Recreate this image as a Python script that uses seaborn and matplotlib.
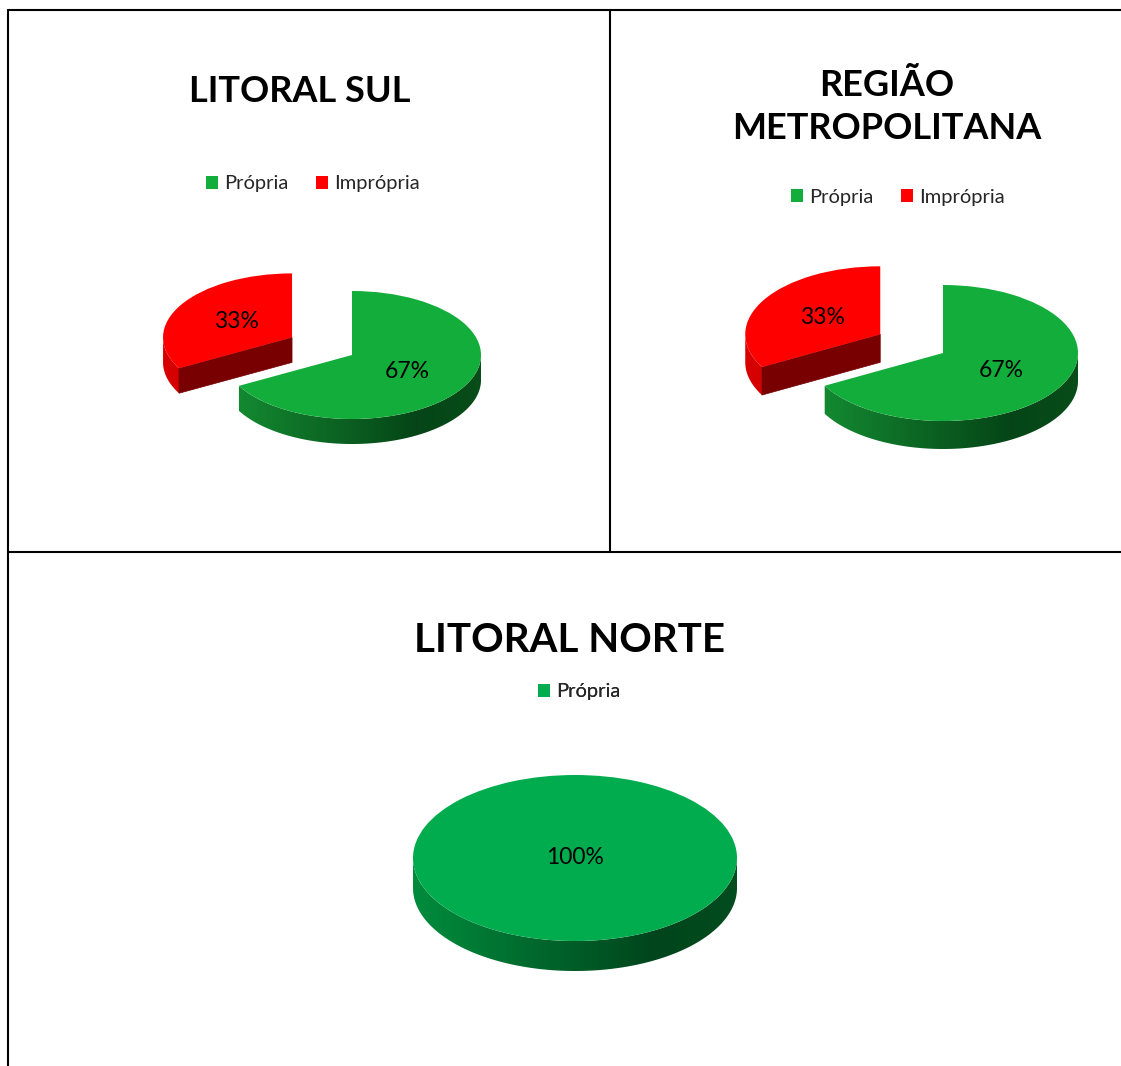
import numpy as np
import seaborn as sns
import matplotlib.pyplot as plt
from matplotlib.patches import Patch, Polygon
from matplotlib.colors import LinearSegmentedColormap
from matplotlib.transforms import Affine2D

# --- dados ---
regioes = ["LITORAL SUL", "REGIÃO\nMETROPOLITANA", "LITORAL NORTE"]
categorias = ["Própria", "Imprópria"]
propria = [67, 67, 100]
impropria = [33, 33, 0]

# --- estilo / layout (pixels) ---
sns.set_theme(style="white")
plt.rcParams['font.family'] = ['Lato', 'DejaVu Sans']

verde_topo = ["#12AD3A", "#12AD3A", "#00AC4E"]
vermelho = "#FF0000"
centros = [(352, 355), (943, 353), (575, 858)]
raios = [(129, 64), (135, 68), (162, 83)]
profund = [25, 28, 30]
explode_imp = 0.54
titulo_pos = [(300, 91, 26), (887, 107, 26), (570, 641, 29)]
legenda_pos = [(313, 184), (898, 197), (579, 692)]

cmap_verde = [
    LinearSegmentedColormap.from_list("v1", [(0, (0.08, 0.56, 0.20)), (0.75, (0.02, 0.27, 0.09)), (1, (0.03, 0.30, 0.10))]),
    LinearSegmentedColormap.from_list("v2", [(0, (0.08, 0.56, 0.20)), (0.75, (0.02, 0.27, 0.09)), (1, (0.03, 0.30, 0.10))]),
    LinearSegmentedColormap.from_list("v3", [(0, (0.00, 0.55, 0.24)), (0.75, (0.00, 0.27, 0.11)), (1, (0.01, 0.30, 0.12))]),
]
cmap_verm = LinearSegmentedColormap.from_list("r", [(0, "#D80000"), (1, "#A00000")])
face_verm = "#780000"
face_verde = "#0A5A20"

fig = plt.figure(figsize=(11.21, 10.66), dpi=100)
ax = fig.add_axes([0, 0, 1, 1])
gradiente = np.linspace(0, 1, 256).reshape(1, -1)


def desenha_paredes(ax, tr, c, t1, t2, d, cmap, face_cor, z):
    # parede externa (parte da frente do arco), preenchida com degradê
    angs = np.radians(np.linspace(t1, t2, 400))
    frente = angs[np.sin(angs) < 0]
    if len(frente) > 1:
        topo = [(c[0] + np.cos(a), c[1] + np.sin(a)) for a in frente]
        base = [(c[0] + np.cos(a), c[1] + np.sin(a) - d) for a in frente[::-1]]
        poly = Polygon(topo + base, closed=True, facecolor="none",
                       edgecolor="none", transform=tr)
        ax.add_patch(poly)
        im = ax.imshow(gradiente, cmap=cmap, aspect="auto", interpolation="bilinear",
                       extent=(c[0] - 1, c[0] + 1, c[1] - 1 - d, c[1] + 1),
                       transform=tr, zorder=z)
        im.set_clip_path(poly)
    # faces radiais
    for th, sinal in ((t1, -1), (t2, 1)):
        normal = np.radians(th + sinal * 90)
        if np.sin(normal) > -0.05:
            continue
        r = np.radians(th)
        pts = [
            (c[0], c[1]),
            (c[0] + np.cos(r), c[1] + np.sin(r)),
            (c[0] + np.cos(r), c[1] + np.sin(r) - d),
            (c[0], c[1] - d),
        ]
        ax.add_patch(Polygon(pts, closed=True, facecolor=face_cor, edgecolor=face_cor,
                             linewidth=0.5, transform=tr, zorder=z))


for i, regiao in enumerate(regioes):
    valores = [propria[i], impropria[i]]
    cores = [verde_topo[i], vermelho]
    cmaps = [cmap_verde[i], cmap_verm]
    faces = [face_verde, face_verm]
    idx = [k for k, v in enumerate(valores) if v > 0]
    vals = [valores[k] for k in idx]
    explode = [0 if k == 0 else explode_imp for k in idx]

    cx, cy = centros[i]
    rx, ry = raios[i]
    tr = Affine2D().scale(rx, -ry).translate(cx, cy) + ax.transData
    d = profund[i] / ry

    wedges, _ = ax.pie(vals, colors=[cores[k] for k in idx], startangle=90,
                       counterclock=False, explode=explode, radius=1,
                       wedgeprops=dict(linewidth=0))
    # ordem: fatias mais "atrás" (y maior) primeiro
    ordem = np.argsort([-w.center[1] for w in wedges])
    for rank, j in enumerate(ordem):
        w = wedges[j]
        k = idx[j]
        w.set_transform(tr)
        w.set_zorder(3 + 2 * rank)
        desenha_paredes(ax, tr, w.center, w.theta1, w.theta2, d, cmaps[k], faces[k], 2 + 2 * rank)
        am = np.radians((w.theta1 + w.theta2) / 2)
        if vals[j] == 100:
            px, py = 0, 0
        else:
            px = w.center[0] + 0.5 * np.cos(am)
            py = w.center[1] + 0.5 * np.sin(am)
        ax.text(px, py, f"{vals[j]}%", transform=tr, ha="center", va="center",
                fontsize=16.5, color="black", zorder=20)

    tx, ty, fs = titulo_pos[i]
    ax.text(tx, ty, regiao, ha="center", va="center", fontsize=fs,
            fontweight="bold", color="black", linespacing=1.4)

    handles = [Patch(facecolor=cores[k], edgecolor="none", label=categorias[k]) for k in idx]
    lx, ly = legenda_pos[i]
    leg = ax.legend(handles=handles, loc="center", bbox_to_anchor=(lx, ly),
                    bbox_transform=ax.transData, ncol=2, frameon=False,
                    fontsize=14.5, handlelength=0.6, handleheight=0.6,
                    handletextpad=0.3, columnspacing=1.4)
    ax.add_artist(leg)

# bordas da tabela
lw = 1.5
ax.plot([8, 1121], [10, 10], color="black", lw=lw)
ax.plot([8, 8], [10, 1066], color="black", lw=lw)
ax.plot([610, 610], [10, 552], color="black", lw=lw)
ax.plot([8, 1121], [552, 552], color="black", lw=lw)

ax.set_aspect("auto")
ax.set_xlim(0, 1121)
ax.set_ylim(1066, 0)
ax.axis("off")

plt.savefig("out.png", dpi=100, facecolor="white")
